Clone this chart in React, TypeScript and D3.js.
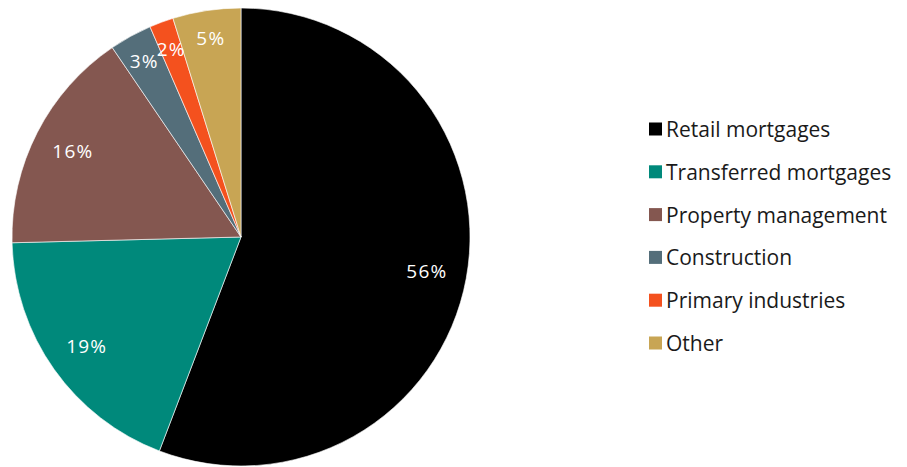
import React from "react";
import * as d3 from "d3";

const categories = ["Retail mortgages", "Transferred mortgages", "Property management", "Construction", "Primary industries", "Other"];
const values = [55.8, 18.8, 15.9, 3.0, 1.7, 4.8];
const labels = ["56%", "19%", "16%", "3%", "2%", "5%"];
const colors = ["#000000", "#00897b", "#845750", "#546e7a", "#f4511e", "#c8a554"];

const W = 907;
const H = 467;
const cx = 241;
const cy = 237;
const R = 229;

export default function App() {
  const pie = d3.pie<number>().sort(null).value((d) => d);
  const arcs = pie(values);
  const total = d3.sum(values);
  const arc = d3.arc<d3.PieArcDatum<number>>().innerRadius(0).outerRadius(R);
  const legendY = d3.scalePoint<string>().domain(categories).range([129, 343]);
  return (
    <svg width={W} height={H} style={{ position: "absolute", left: 0, top: 0 }} fontFamily="'Open Sans', sans-serif">
      <g transform={`translate(${cx},${cy})`}>
        {arcs.map((a, i) => (
          <path key={i} d={arc(a) || ""} fill={colors[i]} stroke="#ffffff" strokeWidth={0.6} />
        ))}
        {arcs.map((a, i) => {
          const r = a.value / total < 0.1 ? 201 : 189;
          const [x, y] = d3.arc<d3.PieArcDatum<number>>().innerRadius(r).outerRadius(r).centroid(a);
          return (
            <text key={i} x={x} y={y} textAnchor="middle" dominantBaseline="central" fill="#ffffff" fontSize={19} letterSpacing={1.2}>
              {labels[i]}
            </text>
          );
        })}
      </g>
      {categories.map((c, i) => (
        <g key={c} transform={`translate(649,${legendY(c)})`}>
          <rect x={0} y={-6.5} width={13} height={13} fill={colors[i]} />
          <text x={17} y={0} dominantBaseline="central" fontSize={21} fill="#1a1a1a">
            {c}
          </text>
        </g>
      ))}
    </svg>
  );
}
